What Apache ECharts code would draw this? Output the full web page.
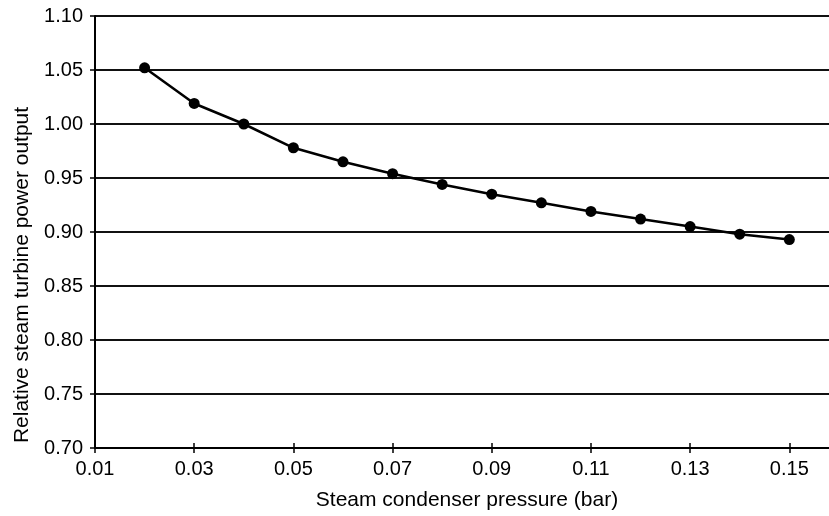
<!DOCTYPE html>
<html>
<head>
<meta charset="utf-8">
<script src="https://cdn.jsdelivr.net/npm/echarts@6/dist/echarts.min.js"></script>
<style>html,body{margin:0;padding:0;background:#fff}#c{width:829px;height:516px}</style>
</head>
<body>
<div id="c"></div>
<script>
var pressures = [0.02,0.03,0.04,0.05,0.06,0.07,0.08,0.09,0.10,0.11,0.12,0.13,0.14,0.15];
var relativePower = [1.052,1.019,1.000,0.978,0.965,0.954,0.944,0.935,0.927,0.919,0.912,0.905,0.898,0.893];
var xTicks = [0.01,0.03,0.05,0.07,0.09,0.11,0.13,0.15];
var yTicks = [0.70,0.75,0.80,0.85,0.90,0.95,1.00,1.05,1.10];

var font = 'Liberation Sans, Arial, sans-serif';
var chart = echarts.init(document.getElementById('c'));
chart.setOption({
  animation: false,
  grid: {left: 95, right: 0, top: 16, bottom: 68},
  xAxis: [{
    type: 'value', min: 0.01, max: 0.158,
    axisLine: {show: true, lineStyle: {color: '#000', width: 2}},
    axisTick: {show: true, length: 5, customValues: xTicks, lineStyle: {color: '#000', width: 1.5}},
    axisLabel: {customValues: xTicks, margin: 11, fontSize: 20, color: '#000', fontFamily: font,
      formatter: function (v) { return v.toFixed(2); }},
    splitLine: {show: false},
    name: 'Steam condenser pressure (bar)', nameLocation: 'middle', nameGap: 42,
    nameTextStyle: {fontSize: 21, color: '#000', fontFamily: font, padding: [0, 0, 0, 10]}
  }, {
    type: 'value', min: 0.01, max: 0.158, position: 'bottom',
    axisLine: {show: false},
    axisTick: {show: true, inside: true, length: 5, customValues: xTicks, lineStyle: {color: '#000', width: 1.5}},
    axisLabel: {show: false}, splitLine: {show: false}
  }],
  yAxis: {
    type: 'value', min: 0.70, max: 1.10, interval: 0.05,
    axisLine: {show: true, lineStyle: {color: '#000', width: 2}},
    axisTick: {show: true, length: 5, lineStyle: {color: '#000', width: 1.5}},
    axisLabel: {margin: 12, fontSize: 20, color: '#000', fontFamily: font,
      formatter: function (v) { return v.toFixed(2); }},
    splitLine: {show: true, lineStyle: {color: '#111', width: 2}},
    name: 'Relative steam turbine power output', nameLocation: 'middle', nameGap: 60,
    nameTextStyle: {fontSize: 21, color: '#000', fontFamily: font, padding: [0, 86, 0, 0]}
  },
  series: [{
    type: 'line',
    data: pressures.map(function (p, i) { return [p, relativePower[i]]; }),
    symbol: 'circle', symbolSize: 11,
    lineStyle: {color: '#000', width: 2.5},
    itemStyle: {color: '#000'}
  }]
});
</script>
</body>
</html>
